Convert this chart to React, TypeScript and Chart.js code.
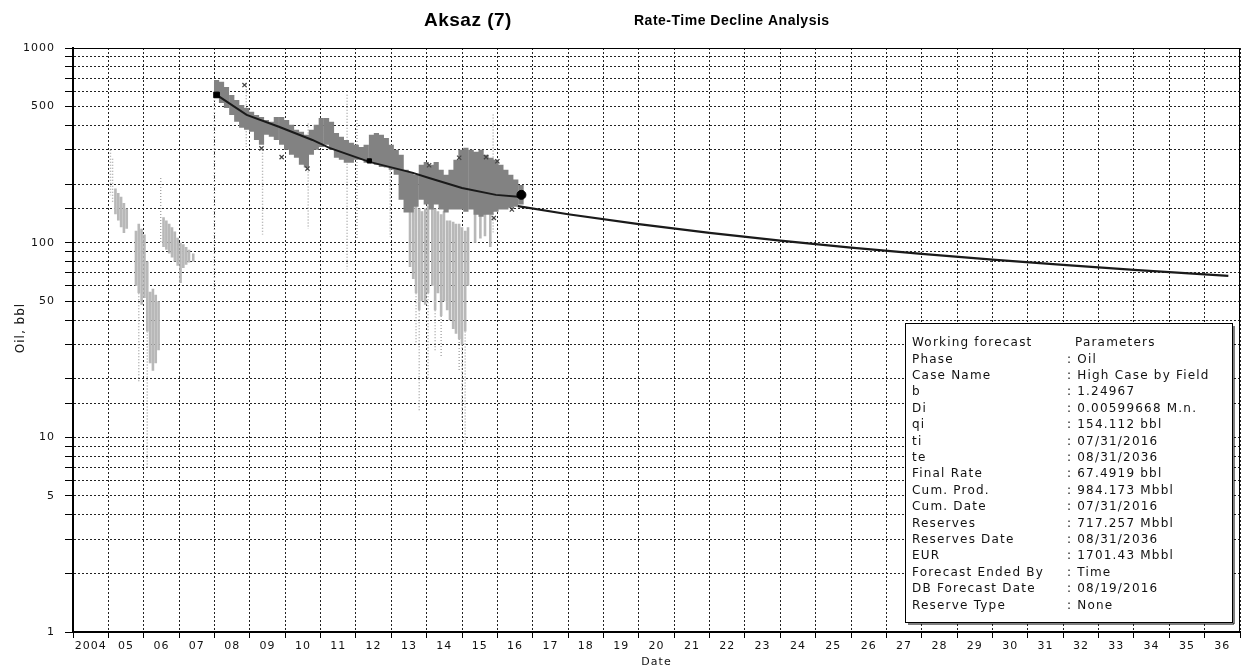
import React, { useEffect, useRef } from 'react';
import { Chart, registerables } from 'chart.js';

Chart.register(...registerables);

const TITLE_MAIN = 'Aksaz (7)';
const TITLE_SUB = 'Rate-Time Decline Analysis';
const Y_TITLE = 'Oil, bbl';
const X_TITLE = 'Date';

const yLabelValues = [1, 5, 10, 50, 100, 500, 1000];
const xMinYear = 2004;
const xMaxYear = 2037;

// dense light-grey daily readings (year, high, low)
const denseYears = [2005.2, 2005.28, 2005.36, 2005.44, 2005.52,
  2005.78, 2005.86, 2005.94, 2006.02, 2006.1, 2006.18, 2006.26, 2006.34, 2006.42,
  2006.56, 2006.64, 2006.72, 2006.8, 2006.88, 2006.96, 2007.04, 2007.12, 2007.2, 2007.28, 2007.4,
  2013.53, 2013.62, 2013.7, 2013.79, 2013.87, 2013.96, 2014.04, 2014.16, 2014.24, 2014.32, 2014.41,
  2014.49, 2014.58, 2014.66, 2014.75, 2014.83, 2014.92, 2015.0, 2015.09, 2015.17,
  2015.37, 2015.52, 2015.65, 2015.8];
const denseHigh = [190, 180, 172, 160, 150,
  115, 125, 118, 110, 80, 56, 58, 54, 50,
  135, 130, 125, 120, 114, 106, 100, 98, 95, 92, 88,
  170, 165, 160, 150, 145, 150, 155, 150, 150, 145, 140,
  145, 130, 130, 128, 125, 125, 120, 115, 120,
  150, 145, 150, 140];
const denseLow = [140, 130, 120, 112, 118,
  60, 55, 48, 52, 35, 24, 22, 24, 28,
  95, 92, 88, 84, 80, 76, 62, 74, 77, 79, 80,
  75, 65, 55, 45, 50, 48, 55, 60, 45, 55, 42,
  50, 45, 40, 36, 34, 32, 30, 35, 60,
  100, 105, 108, 95];

// sparse light-grey dotted readings (year, high, low)
const sparseYears = [2005.06, 2005.12, 2005.86, 2006.1, 2006.48, 2007.04, 2008.0, 2008.9, 2009.36,
  2010.65, 2011.75, 2012.03, 2012.97, 2015.88, 2013.79, 2013.7, 2014.04, 2014.24, 2014.41,
  2014.92, 2015.0, 2015.09];
const sparseHigh = [300, 270, 55, 35, 215, 76, 560, 660, 300,
  410, 575, 427, 280, 455, 45, 55, 55, 45, 42,
  32, 30, 35];
const sparseLow = [175, 160, 19, 7, 100, 62, 57, 310, 110,
  118, 73, 104, 107, 113, 13.5, 30, 20, 28, 26,
  22, 12, 9.2];

// dark-grey production cloud (year, high, low)
const clusterYears = [2008.06, 2008.2, 2008.34, 2008.49, 2008.63, 2008.77, 2008.91, 2009.05, 2009.19,
  2009.33, 2009.47, 2009.61, 2009.75, 2009.9, 2010.04, 2010.18, 2010.32, 2010.46, 2010.6, 2010.74,
  2010.88, 2011.02, 2011.17, 2011.31, 2011.45, 2011.59, 2011.73, 2011.87, 2012.01, 2012.15, 2012.29,
  2012.44, 2012.58, 2012.72, 2012.86, 2013.0, 2013.14, 2013.28, 2013.42, 2013.56, 2013.7, 2013.85,
  2013.99, 2014.13, 2014.27, 2014.41, 2014.55, 2014.69, 2014.83, 2014.97, 2015.11, 2015.26, 2015.4,
  2015.54, 2015.68, 2015.82, 2015.96, 2016.1, 2016.24, 2016.38, 2016.52, 2016.67];
const clusterHigh = [685, 670, 631, 574, 541, 510, 492, 470, 453,
  442, 427, 418, 442, 442, 427, 403, 380, 371, 358, 380,
  403, 437, 437, 418, 366, 350, 337, 326, 318, 310, 318,
  358, 366, 358, 345, 318, 300, 283, 237, 231, 223, 251,
  260, 251, 260, 237, 223, 237, 267, 300, 307, 300, 293,
  300, 283, 273, 267, 251, 237, 223, 211, 198];
const clusterLow = [555, 522, 492, 453, 418, 389, 380, 371, 337,
  318, 358, 350, 337, 318, 300, 283, 273, 251, 243, 283,
  300, 310, 318, 300, 273, 267, 257, 257, 267, 267, 257,
  257, 251, 245, 243, 237, 223, 166, 143, 143, 153, 166,
  157, 148, 157, 148, 143, 148, 148, 148, 144, 148, 139,
  136, 139, 139, 144, 148, 148, 151, 153, 157];

// scattered dark points
const outlierYears = [2008.85, 2009.33, 2009.9, 2010.63, 2014.07, 2014.92, 2015.68, 2016.0, 2016.41, 2015.9];
const outlierValues = [645, 305, 275, 240, 250, 273, 275, 262, 148, 134];

// black markers on the fit
const markerYears = [2008.06, 2012.38, 2016.68];
const markerValues = [574, 263, 176];

// history fit
const fitYears = [2008.06, 2008.91, 2009.84, 2010.77, 2011.25, 2012.38, 2013.59, 2014.07, 2015.0, 2015.96, 2016.6];
const fitValues = [574, 453, 393, 337, 307, 260, 229, 215, 191, 176, 172];

// forecast
const forecastYears = [2016.58, 2018, 2020, 2022, 2024, 2026, 2028, 2030, 2032, 2034, 2036.67];
const forecastValues = [154.1, 140.0, 124.4, 112.2, 102.4, 94.3, 87.6, 81.8, 76.9, 72.5, 67.5];

const infoLabels = ['Working forecast', 'Phase', 'Case Name', 'b', 'Di', 'qi', 'ti', 'te', 'Final Rate',
  'Cum. Prod.', 'Cum. Date', 'Reserves', 'Reserves Date', 'EUR', 'Forecast Ended By', 'DB Forecast Date', 'Reserve Type'];
const infoValues = ['Parameters', 'Oil', 'High Case by Field', '1.24967', '0.00599668 M.n.', '154.112 bbl',
  '07/31/2016', '08/31/2036', '67.4919 bbl', '984.173 Mbbl', '07/31/2016', '717.257 Mbbl', '08/31/2036',
  '1701.43 Mbbl', 'Time', '08/19/2016', 'None'];

const FONT = '"DejaVu Sans", "Liberation Sans", sans-serif';

function segments(xs: number[], hi: number[], lo: number[]) {
  const pts: any[] = [];
  xs.forEach((x, i) => {
    pts.push({ x, y: hi[i] }, { x, y: lo[i] }, { x, y: null });
  });
  return pts;
}

function pairs(xs: number[], ys: number[]) {
  return xs.map((x, i) => ({ x, y: ys[i] }));
}

const decorPlugin = {
  id: 'decor',
  beforeUpdate(chart: any) {
    chart.ctx.letterSpacing = '1px';
  },
  beforeDraw(chart: any) {
    chart.ctx.letterSpacing = '1px';
  },
  afterDatasetsDraw(chart: any) {
    const { ctx, chartArea: a } = chart;
    ctx.save();
    ctx.strokeStyle = '#000';
    ctx.lineWidth = 1;
    ctx.strokeRect(a.left + 0.5, a.top + 0.5, a.right - a.left - 1, a.bottom - a.top - 1);
    ctx.lineWidth = 2;
    ctx.beginPath();
    ctx.moveTo(a.left, a.top);
    ctx.lineTo(a.left, a.bottom);
    ctx.lineTo(a.right, a.bottom);
    ctx.stroke();
    ctx.restore();
  },
  afterDraw(chart: any) {
    const { ctx } = chart;
    ctx.save();
    ctx.fillStyle = '#000';
    ctx.textBaseline = 'alphabetic';
    ctx.textAlign = 'left';
    ctx.letterSpacing = '0.5px';
    ctx.font = 'bold 19px "Liberation Sans", Arial, sans-serif';
    ctx.fillText(TITLE_MAIN, 424, 26);
    ctx.font = 'bold 14px "Liberation Sans", Arial, sans-serif';
    ctx.fillText(TITLE_SUB, 634, 25);

    // y title
    ctx.save();
    ctx.letterSpacing = '1px';
    ctx.translate(21, 328);
    ctx.rotate(-Math.PI / 2);
    ctx.textAlign = 'center';
    ctx.textBaseline = 'middle';
    ctx.font = '12px ' + FONT;
    ctx.fillStyle = '#111';
    ctx.fillText(Y_TITLE, 0, 0);
    ctx.restore();

    // info box
    const bx = 905, by = 323, bw = 327, bh = 299;
    ctx.fillStyle = '#fff';
    ctx.fillRect(bx, by, bw, bh);
    ctx.strokeStyle = '#000';
    ctx.lineWidth = 1;
    ctx.strokeRect(bx + 0.5, by + 0.5, bw, bh);
    ctx.beginPath();
    ctx.moveTo(bx + bw + 2, by + 3);
    ctx.lineTo(bx + bw + 2, by + bh + 2);
    ctx.lineTo(bx + 3, by + bh + 2);
    ctx.stroke();
    ctx.font = '12px ' + FONT;
    ctx.letterSpacing = '1.2px';
    ctx.fillStyle = '#111';
    ctx.textBaseline = 'middle';
    infoLabels.forEach((lab, i) => {
      const y = 343 + i * 16.4;
      ctx.fillText(lab, 912, y);
      if (i === 0) ctx.fillText(infoValues[i], 1075, y);
      else ctx.fillText(': ' + infoValues[i], 1067, y);
    });
    ctx.restore();
  },
};

export default function App() {
  const ref = useRef<HTMLCanvasElement | null>(null);
  useEffect(() => {
    if (!ref.current) return;
    const tickFont = { family: FONT, size: 11 };
    const chart = new Chart(ref.current, {
      type: 'line',
      data: {
        datasets: [
          {
            label: 'markers',
            data: pairs(markerYears, markerValues),
            showLine: false,
            pointStyle: ['rect', 'rect', 'circle'],
            pointRadius: [4, 3, 4.5],
            pointBackgroundColor: '#000',
            pointBorderColor: '#000',
            order: 0,
          },
          {
            label: 'forecast',
            data: pairs(forecastYears, forecastValues),
            borderColor: '#1a1a1a',
            borderWidth: 2.2,
            pointRadius: 0,
            order: 1,
          },
          {
            label: 'fit',
            data: pairs(fitYears, fitValues),
            borderColor: '#1a1a1a',
            borderWidth: 2,
            pointRadius: 0,
            order: 1,
          },
          {
            label: 'outliers',
            data: pairs(outlierYears, outlierValues),
            showLine: false,
            pointStyle: 'crossRot',
            pointRadius: 3,
            pointBorderColor: '#444',
            pointBorderWidth: 1.2,
            order: 2,
          },
          {
            label: 'cluster',
            data: segments(clusterYears, clusterHigh, clusterLow),
            borderColor: '#828282',
            borderWidth: 5.2,
            borderCapStyle: 'butt',
            pointRadius: 0,
            spanGaps: false,
            order: 3,
          },
          {
            label: 'dense',
            data: segments(denseYears, denseHigh, denseLow),
            borderColor: '#b8b8b8',
            borderWidth: 2.6,
            borderCapStyle: 'butt',
            pointRadius: 0,
            spanGaps: false,
            order: 4,
          },
          {
            label: 'sparse',
            data: segments(sparseYears, sparseHigh, sparseLow),
            borderColor: '#a6a6a6',
            borderWidth: 1.4,
            borderDash: [1, 2],
            borderCapStyle: 'butt',
            pointRadius: 0,
            spanGaps: false,
            order: 5,
          },
        ],
      },
      options: {
        animation: false,
        responsive: true,
        maintainAspectRatio: false,
        layout: { padding: { top: 48, right: 10, left: 0, bottom: 0 } },
        plugins: {
          legend: { display: false },
          tooltip: { enabled: false },
          title: { display: false },
        },
        elements: { line: { tension: 0 } },
        scales: {
          x: {
            type: 'linear',
            min: xMinYear,
            max: xMaxYear,
            afterFit: (s: any) => { s.height = 38; },
            ticks: {
              stepSize: 1,
              autoSkip: false,
              maxRotation: 0,
              minRotation: 0,
              labelOffset: 17.7,
              padding: 2,
              color: '#111',
              font: tickFont,
              callback: (v: any) => {
                const n = Number(v);
                if (n === xMaxYear) return '';
                if (n === xMinYear) return String(n);
                return String(n % 100).padStart(2, '0');
              },
            },
            grid: { color: '#222', lineWidth: 1, tickLength: 6, tickColor: '#000', tickBorderDash: [] },
            border: { display: true, color: '#000', width: 2, dash: [2, 2] },
            title: { display: true, text: X_TITLE, color: '#111', font: { family: FONT, size: 11 }, padding: { top: 0, bottom: 1 } },
          },
          y: {
            type: 'logarithmic',
            min: 1,
            max: 1000,
            afterFit: (s: any) => { s.width = 73; },
            ticks: {
              autoSkip: false,
              padding: 10,
              color: '#111',
              font: tickFont,
              callback: (v: any) => (yLabelValues.includes(Number(v)) ? String(Number(v)) : ''),
            },
            grid: { color: '#222', lineWidth: 1, tickLength: 8, tickColor: '#000', tickBorderDash: [] },
            border: { display: true, color: '#000', width: 2, dash: [2, 2] },
          },
        },
      },
      plugins: [decorPlugin],
    } as any);
    return () => chart.destroy();
  }, []);
  return (
    <div style={{ position: 'fixed', left: 0, top: 0, width: 1250, height: 670, background: '#fff' }}>
      <canvas ref={ref} />
    </div>
  );
}
